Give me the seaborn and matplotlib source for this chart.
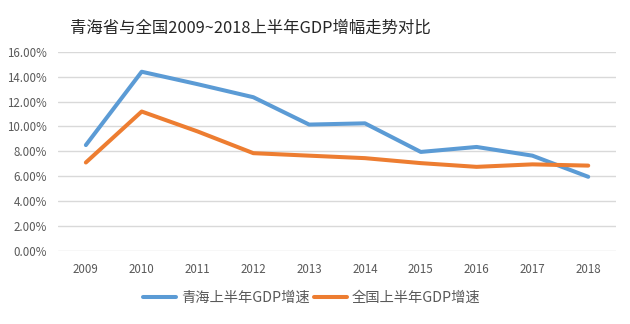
import matplotlib
matplotlib.use("Agg")
import matplotlib.pyplot as plt
import seaborn as sns
import pandas as pd
from matplotlib.ticker import FuncFormatter

years = ["2009", "2010", "2011", "2012", "2013", "2014", "2015", "2016", "2017", "2018"]
qinghai = [8.5, 14.4, 13.4, 12.35, 10.15, 10.25, 7.95, 8.35, 7.65, 5.95]
national = [7.1, 11.2, 9.6, 7.85, 7.65, 7.45, 7.05, 6.75, 6.95, 6.85]
series_names = ["青海上半年GDP增速", "全国上半年GDP增速"]
title = "青海省与全国2009~2018上半年GDP增幅走势对比"

df = pd.DataFrame({
    "year": years * 2,
    "value": qinghai + national,
    "series": [series_names[0]] * len(years) + [series_names[1]] * len(years),
})

sns.set_theme(style="white")
plt.rcParams['font.family'] = ['Noto Sans CJK SC', 'DejaVu Sans']

fig = plt.figure(figsize=(6.3, 3.24), dpi=100)
ax = fig.add_axes([0.092, 0.226, 0.886, 0.614])

sns.lineplot(data=df, x="year", y="value", hue="series", sort=False,
             palette=["#5B9BD5", "#ED7D31"], linewidth=2.9, ax=ax, legend=True)

ax.set_xlim(-0.5, 9.5)
ax.set_ylim(0, 16)
ax.set_yticks([0, 2, 4, 6, 8, 10, 12, 14, 16])
ax.yaxis.set_major_formatter(FuncFormatter(lambda v, p: f"{v:.2f}%"))
ax.grid(axis="y", color="#D9D9D9", linewidth=1)
ax.set_axisbelow(True)
for s in ax.spines.values():
    s.set_visible(False)
ax.set_xlabel("")
ax.set_ylabel("")
ax.tick_params(axis="both", length=0, labelsize=8.3, labelcolor="#595959")
ax.tick_params(axis="x", pad=9)
ax.tick_params(axis="y", pad=8)

ax.legend(loc="center", bbox_to_anchor=(0.455, -0.235), ncol=2, frameon=False,
          fontsize=10.3, handlelength=2.3, columnspacing=0.3, handletextpad=0.35,
          labelcolor="#595959")

fig.text(0.397, 0.912, title, ha="center", va="center", fontsize=11.8, color="#262626")

fig.savefig("out.png", dpi=100, facecolor="white")
